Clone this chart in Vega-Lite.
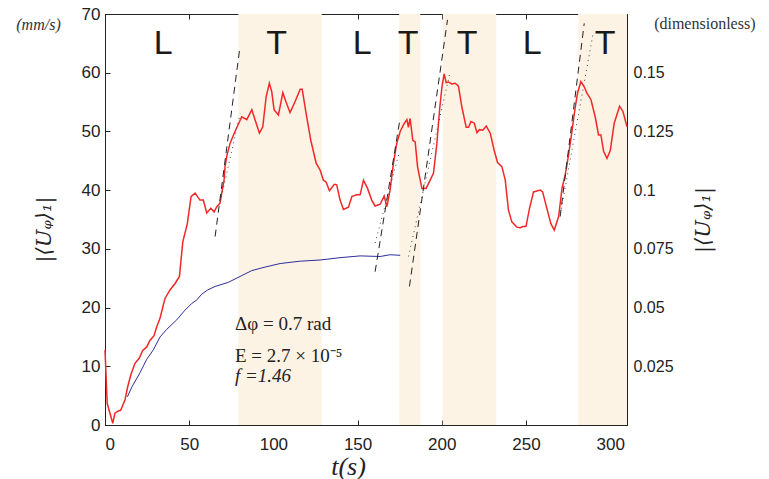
{
  "$schema": "https://vega.github.io/schema/vega-lite/v6.json",
  "width": 522,
  "height": 411,
  "autosize": {"type": "none"},
  "padding": {"left": 105, "top": 14, "right": 142, "bottom": 54},
  "background": "white",
  "config": {
    "view": {"stroke": "#222", "strokeWidth": 1},
    "axis": {
      "grid": false,
      "labelFont": "Liberation Sans",
      "labelFontSize": 17,
      "labelColor": "#222",
      "tickColor": "#222",
      "domainColor": "#222",
      "tickSize": -5,
      "labelPadding": 10
    }
  },
  "datasets": {
    "shades": [
      {"t": 79.2, "t2": 128.7},
      {"t": 174.7, "t2": 187.2},
      {"t": 200.6, "t2": 232.3},
      {"t": 281.0, "t2": 310.0}
    ],
    "red": [
      {"t": 0, "v": 12.8}, {"t": 1.3, "v": 3.7}, {"t": 4.6, "v": 0.3}, {"t": 5.9, "v": 2.0},
      {"t": 7.9, "v": 2.4}, {"t": 9.3, "v": 2.5}, {"t": 11.9, "v": 4.3}, {"t": 13.3, "v": 6.3},
      {"t": 15.3, "v": 8.5}, {"t": 17.8, "v": 10.5}, {"t": 20.4, "v": 11.4}, {"t": 22.4, "v": 12.7},
      {"t": 24.8, "v": 13.3}, {"t": 26.7, "v": 14.4}, {"t": 29.1, "v": 15.2}, {"t": 30.7, "v": 16.7},
      {"t": 32.7, "v": 18.2}, {"t": 34.6, "v": 20.4}, {"t": 35.7, "v": 21.6}, {"t": 38.6, "v": 23.0},
      {"t": 41.6, "v": 24.1}, {"t": 44.2, "v": 25.3}, {"t": 46.2, "v": 31.2}, {"t": 48.9, "v": 34.3},
      {"t": 51.1, "v": 38.9}, {"t": 53.5, "v": 39.5}, {"t": 56.4, "v": 38.3}, {"t": 58.4, "v": 38.3},
      {"t": 60.4, "v": 36.1}, {"t": 62.8, "v": 36.9}, {"t": 64.8, "v": 36.3}, {"t": 66.4, "v": 37.2},
      {"t": 68.3, "v": 37.8}, {"t": 70.7, "v": 41.7}, {"t": 71.3, "v": 44.0}, {"t": 72.5, "v": 46.0},
      {"t": 74.3, "v": 48.0}, {"t": 77.2, "v": 50.0}, {"t": 81.2, "v": 52.5}, {"t": 84.2, "v": 52.0},
      {"t": 87.2, "v": 53.7}, {"t": 89.1, "v": 52.0}, {"t": 91.7, "v": 49.7}, {"t": 93.7, "v": 50.8},
      {"t": 95.7, "v": 55.9}, {"t": 97.6, "v": 58.2}, {"t": 99.0, "v": 56.8}, {"t": 100.4, "v": 53.7},
      {"t": 103.0, "v": 52.8}, {"t": 105.6, "v": 56.6}, {"t": 107.4, "v": 55.1}, {"t": 109.9, "v": 53.2},
      {"t": 112.9, "v": 55.1}, {"t": 115.9, "v": 57.2}, {"t": 117.1, "v": 57.2}, {"t": 119.4, "v": 53.1},
      {"t": 122.2, "v": 48.5}, {"t": 125.4, "v": 44.6}, {"t": 127.8, "v": 43.4}, {"t": 129.7, "v": 41.7},
      {"t": 131.3, "v": 41.4}, {"t": 133.3, "v": 39.9}, {"t": 136.2, "v": 41.0}, {"t": 137.6, "v": 40.9},
      {"t": 139.6, "v": 38.3}, {"t": 141.6, "v": 36.7}, {"t": 144.6, "v": 37.1}, {"t": 146.6, "v": 38.9},
      {"t": 149.5, "v": 39.2}, {"t": 151.5, "v": 39.2}, {"t": 153.5, "v": 41.7}, {"t": 155.9, "v": 40.3},
      {"t": 158.4, "v": 38.3}, {"t": 160.4, "v": 37.3}, {"t": 163.4, "v": 37.6}, {"t": 165.8, "v": 39.0},
      {"t": 167.4, "v": 37.2}, {"t": 169.3, "v": 40.0}, {"t": 171.3, "v": 44.6}, {"t": 173.3, "v": 48.0},
      {"t": 175.3, "v": 50.0}, {"t": 177.8, "v": 51.4}, {"t": 179.3, "v": 52.0}, {"t": 180.2, "v": 50.7},
      {"t": 181.2, "v": 52.2}, {"t": 182.8, "v": 48.5}, {"t": 184.2, "v": 48.2}, {"t": 185.6, "v": 44.0},
      {"t": 188.2, "v": 40.3}, {"t": 190.7, "v": 40.3}, {"t": 193.1, "v": 41.7}, {"t": 195.1, "v": 42.9},
      {"t": 197.1, "v": 48.0}, {"t": 198.7, "v": 53.7}, {"t": 200.1, "v": 57.6}, {"t": 201.4, "v": 59.8},
      {"t": 202.6, "v": 58.3}, {"t": 204.0, "v": 58.4}, {"t": 206.0, "v": 58.1}, {"t": 208.0, "v": 58.2},
      {"t": 209.9, "v": 57.7}, {"t": 211.9, "v": 54.2}, {"t": 214.5, "v": 50.7}, {"t": 215.9, "v": 50.7},
      {"t": 217.3, "v": 51.7}, {"t": 219.3, "v": 51.4}, {"t": 220.9, "v": 49.8}, {"t": 222.4, "v": 50.3},
      {"t": 224.4, "v": 50.2}, {"t": 226.4, "v": 50.9}, {"t": 228.8, "v": 49.7}, {"t": 231.1, "v": 46.8},
      {"t": 233.1, "v": 44.7}, {"t": 235.7, "v": 44.0}, {"t": 237.7, "v": 41.7}, {"t": 239.6, "v": 36.6},
      {"t": 241.6, "v": 34.6}, {"t": 244.6, "v": 33.7}, {"t": 246.6, "v": 33.6}, {"t": 248.2, "v": 33.8},
      {"t": 250.0, "v": 33.8}, {"t": 252.1, "v": 36.9}, {"t": 254.5, "v": 39.7}, {"t": 258.5, "v": 40.0},
      {"t": 259.9, "v": 39.7}, {"t": 262.4, "v": 36.9}, {"t": 264.8, "v": 34.3}, {"t": 266.8, "v": 33.2},
      {"t": 269.4, "v": 35.5}, {"t": 271.4, "v": 40.3}, {"t": 273.3, "v": 42.6}, {"t": 275.3, "v": 46.0},
      {"t": 277.3, "v": 50.0}, {"t": 279.3, "v": 54.2}, {"t": 280.6, "v": 56.5}, {"t": 282.6, "v": 58.5},
      {"t": 284.6, "v": 57.6}, {"t": 286.2, "v": 56.5}, {"t": 288.6, "v": 55.4}, {"t": 291.1, "v": 52.5},
      {"t": 293.1, "v": 49.4}, {"t": 294.5, "v": 49.4}, {"t": 296.1, "v": 46.6}, {"t": 298.1, "v": 45.4},
      {"t": 300.1, "v": 46.8}, {"t": 302.4, "v": 51.4}, {"t": 305.6, "v": 54.3}, {"t": 307.6, "v": 53.4},
      {"t": 310.0, "v": 50.8}
    ],
    "blue": [
      {"t": 13.3, "v": 4.8}, {"t": 16.0, "v": 6.5}, {"t": 20.8, "v": 8.9}, {"t": 24.8, "v": 11.2},
      {"t": 28.7, "v": 12.8}, {"t": 32.7, "v": 15.0}, {"t": 36.7, "v": 16.3}, {"t": 42.6, "v": 17.9},
      {"t": 47.0, "v": 19.4}, {"t": 51.5, "v": 20.7}, {"t": 54.5, "v": 21.3}, {"t": 57.5, "v": 22.3},
      {"t": 61.0, "v": 23.0}, {"t": 65.4, "v": 23.6}, {"t": 73.3, "v": 24.3}, {"t": 80.2, "v": 25.3},
      {"t": 87.2, "v": 26.3}, {"t": 95.1, "v": 26.9}, {"t": 104.0, "v": 27.5}, {"t": 115.9, "v": 27.9},
      {"t": 127.8, "v": 28.1}, {"t": 139.6, "v": 28.5}, {"t": 151.5, "v": 28.8}, {"t": 163.4, "v": 28.7},
      {"t": 169.3, "v": 29.0}, {"t": 175.3, "v": 28.9}
    ],
    "dashed": [
      {"seg": 1, "t": 65.4, "v": 32.1}, {"seg": 1, "t": 80.2, "v": 64.5},
      {"seg": 2, "t": 160.4, "v": 26.1}, {"seg": 2, "t": 175.3, "v": 52.3},
      {"seg": 3, "t": 180.8, "v": 23.6}, {"seg": 3, "t": 203.4, "v": 69.0},
      {"seg": 4, "t": 270.3, "v": 35.5}, {"seg": 4, "t": 284.6, "v": 68.4}
    ],
    "dotted": [
      {"seg": 1, "t": 68.5, "v": 38.0}, {"seg": 1, "t": 80.2, "v": 53.0},
      {"seg": 2, "t": 160.4, "v": 31.0}, {"seg": 2, "t": 174.9, "v": 46.6},
      {"seg": 3, "t": 180.2, "v": 28.7}, {"seg": 3, "t": 205.0, "v": 60.2},
      {"seg": 4, "t": 270.5, "v": 36.0}, {"seg": 4, "t": 289.7, "v": 66.4}
    ],
    "letters": [
      {"t": 34.5, "v": 64.9, "s": "L"}, {"t": 102.0, "v": 64.9, "s": "T"},
      {"t": 152.7, "v": 64.9, "s": "L"}, {"t": 180.0, "v": 64.9, "s": "T"},
      {"t": 215.0, "v": 64.9, "s": "T"}, {"t": 253.7, "v": 64.9, "s": "L"},
      {"t": 297.0, "v": 64.9, "s": "T"}
    ],
    "notes": [
      {"t": 77.2, "v": 16.1, "s": "Δφ = 0.7 rad"},
      {"t": 77.2, "v": 10.8, "s": "E = 2.7 × 10⁻⁵"}
    ],
    "notesItalic": [
      {"t": 77.2, "v": 7.4, "s": "f =1.46"}
    ],
    "units": [
      {"t": -39.5, "v": 68.2, "s": "(mm/s)"}
    ],
    "units2": [
      {"t": 356.2, "v": 68.3, "s": "(dimensionless)"}
    ],
    "dummy": [{"t": 0, "r": 0}, {"t": 310, "r": 0.175}]
  },
  "layer": [
    {
      "layer": [
        {
          "data": {"name": "shades"},
          "mark": {"type": "rect", "color": "#fcf3e4"},
          "encoding": {
            "x": {"field": "t", "type": "quantitative", "scale": {"domain": [0, 310], "nice": false, "zero": false},
                  "axis": {"title": "t(s)", "values": [0, 50, 100, 150, 200, 250, 300], "labelPadding": 16, "titleFont": "Liberation Serif", "titleFontStyle": "italic", "titleFontWeight": "normal", "titleFontSize": 26, "titleColor": "#222", "titlePadding": 1, "titleX": 243}},
            "x2": {"field": "t2"},
            "y": {"datum": 0, "type": "quantitative", "scale": {"domain": [0, 70], "nice": false},
                  "axis": {"title": "|⟨Uᵩ⟩₁|", "orient": "left", "values": [0, 10, 20, 30, 40, 50, 60, 70], "titleFont": "DejaVu Serif", "titleFontStyle": "italic", "titleFontWeight": "normal", "titleFontSize": 21, "titleColor": "#222", "titlePadding": 27, "titleY": 215}},
            "y2": {"datum": 70}
          }
        },
        {
          "data": {"name": "blue"},
          "mark": {"type": "line", "color": "#2d2d9c", "strokeWidth": 1},
          "encoding": {
            "x": {"field": "t", "type": "quantitative"},
            "y": {"field": "v", "type": "quantitative"}
          }
        },
        {
          "data": {"name": "red"},
          "mark": {"type": "line", "color": "#f02828", "strokeWidth": 1.5},
          "encoding": {
            "x": {"field": "t", "type": "quantitative"},
            "y": {"field": "v", "type": "quantitative"}
          }
        },
        {
          "data": {"name": "dashed"},
          "mark": {"type": "line", "color": "#222", "strokeWidth": 1, "strokeDash": [7, 5]},
          "encoding": {
            "x": {"field": "t", "type": "quantitative"},
            "y": {"field": "v", "type": "quantitative"},
            "detail": {"field": "seg"}
          }
        },
        {
          "data": {"name": "dotted"},
          "mark": {"type": "line", "color": "#444", "strokeWidth": 1, "strokeDash": [1, 4]},
          "encoding": {
            "x": {"field": "t", "type": "quantitative"},
            "y": {"field": "v", "type": "quantitative"},
            "detail": {"field": "seg"}
          }
        },
        {
          "data": {"name": "letters"},
          "mark": {"type": "text", "font": "Liberation Sans", "fontSize": 34, "color": "#1a1a1a", "baseline": "middle", "align": "center"},
          "encoding": {
            "x": {"field": "t", "type": "quantitative"},
            "y": {"field": "v", "type": "quantitative"},
            "text": {"field": "s"}
          }
        },
        {
          "data": {"name": "notes"},
          "mark": {"type": "text", "font": "Liberation Serif", "fontSize": 19, "color": "#222", "baseline": "alphabetic", "align": "left"},
          "encoding": {
            "x": {"field": "t", "type": "quantitative"},
            "y": {"field": "v", "type": "quantitative"},
            "text": {"field": "s"}
          }
        },
        {
          "data": {"name": "notesItalic"},
          "mark": {"type": "text", "font": "Liberation Serif", "fontStyle": "italic", "fontSize": 19, "color": "#222", "baseline": "alphabetic", "align": "left"},
          "encoding": {
            "x": {"field": "t", "type": "quantitative"},
            "y": {"field": "v", "type": "quantitative"},
            "text": {"field": "s"}
          }
        },
        {
          "data": {"name": "units"},
          "mark": {"type": "text", "font": "Liberation Serif", "fontStyle": "italic", "fontSize": 16, "color": "#333", "baseline": "middle", "align": "center"},
          "encoding": {
            "x": {"field": "t", "type": "quantitative"},
            "y": {"field": "v", "type": "quantitative"},
            "text": {"field": "s"}
          }
        },
        {
          "data": {"name": "units2"},
          "mark": {"type": "text", "font": "Liberation Serif", "fontSize": 16, "color": "#333", "baseline": "middle", "align": "center"},
          "encoding": {
            "x": {"field": "t", "type": "quantitative"},
            "y": {"field": "v", "type": "quantitative"},
            "text": {"field": "s"}
          }
        }
      ]
    },
    {
      "data": {"name": "dummy"},
      "mark": {"type": "point", "opacity": 0},
      "encoding": {
        "x": {"field": "t", "type": "quantitative", "scale": {"domain": [0, 310], "nice": false, "zero": false},
              "axis": {"orient": "top", "title": null, "labels": false, "values": [0, 50, 100, 150, 200, 250, 300]}},
        "y": {"field": "r", "type": "quantitative", "scale": {"domain": [0, 0.175], "nice": false},
              "axis": {"orient": "right", "title": "|⟨Uᵩ⟩₁|", "values": [0.025, 0.05, 0.075, 0.1, 0.125, 0.15], "format": ".3~g", "labelPadding": 11, "labelFontSize": 16, "titleFont": "DejaVu Serif", "titleFontStyle": "italic", "titleFontWeight": "normal", "titleFontSize": 21, "titleColor": "#222", "titleAngle": 270, "titlePadding": 40}}
      }
    }
  ],
  "resolve": {"scale": {"x": "independent", "y": "independent"}, "axis": {"x": "independent", "y": "independent"}}
}
